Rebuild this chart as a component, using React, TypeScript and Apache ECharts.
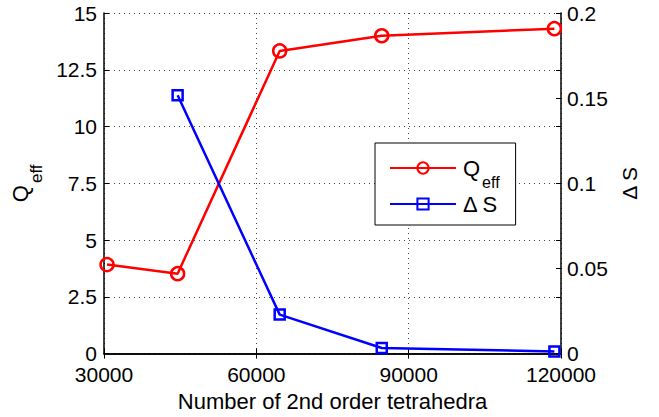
import React, { useEffect, useRef } from "react";
import * as echarts from "echarts";

const xTicks = [30000, 60000, 90000, 120000];
const qEffX = [30600, 44500, 64600, 84700, 118700];
const qEffValues = [3.92, 3.52, 13.33, 14.0, 14.31];
const deltaSX = [44500, 64600, 84700, 118700];
const deltaSValues = [0.1517, 0.0229, 0.0033, 0.0013];

const FONT = "'Liberation Sans', Arial, Helvetica, sans-serif";

export default function App() {
  const ref = useRef<HTMLDivElement>(null);
  useEffect(() => {
    if (!ref.current) return;
    const chart = echarts.init(ref.current, undefined, { renderer: "svg" });
    const axisLine = { show: true, lineStyle: { color: "#000", width: 1.5 } };
    const tick = { show: true, inside: true, length: 5, lineStyle: { color: "#000", width: 1 } };
    const grid = { show: true, lineStyle: { color: "#444", width: 1, type: [1, 4] as any } };
    const label = { color: "#000", fontSize: 21, fontFamily: FONT, lineHeight: 18 };
    chart.setOption({
      animation: false,
      textStyle: { fontFamily: FONT },
      grid: { left: 104, right: 98, top: 13, bottom: 63, containLabel: false },
      xAxis: [
        {
          type: "value",
          min: xTicks[0],
          max: xTicks[xTicks.length - 1],
          interval: 30000,
          position: "bottom",
          axisLine,
          axisTick: tick,
          splitLine: grid,
          axisLabel: { ...label, margin: 12, formatter: (v: number) => String(v) },
          name: "Number of 2nd order tetrahedra",
          nameLocation: "middle",
          nameGap: 36,
          nameTextStyle: { color: "#000", fontSize: 22, fontFamily: FONT },
        },
        {
          type: "value",
          min: xTicks[0],
          max: xTicks[xTicks.length - 1],
          interval: 30000,
          position: "top",
          axisLine,
          axisTick: tick,
          splitLine: { show: false },
          axisLabel: { show: false },
        },
      ],
      yAxis: [
        {
          type: "value",
          min: 0,
          max: 15,
          interval: 2.5,
          position: "left",
          axisLine,
          axisTick: tick,
          splitLine: grid,
          axisLabel: { ...label, margin: 7 },
          name: "{q|Q}{s|eff}",
          nameLocation: "middle",
          nameRotate: 90,
          nameGap: 73,
          nameTextStyle: {
            color: "#000",
            fontFamily: FONT,
            rich: {
              q: { fontSize: 22, color: "#000", fontFamily: FONT },
              s: { fontSize: 17, color: "#000", fontFamily: FONT, padding: [16, 0, -16, 2] },
            },
          },
        },
        {
          type: "value",
          min: 0,
          max: 0.2,
          interval: 0.05,
          position: "right",
          axisLine,
          axisTick: tick,
          splitLine: { show: false },
          axisLabel: { ...label, margin: 6 },
          name: "Δ S",
          nameLocation: "middle",
          nameRotate: 90,
          nameGap: 56,
          nameTextStyle: { color: "#000", fontSize: 21, fontFamily: FONT },
        },
        {
          type: "value",
          min: 0,
          max: 15,
          interval: 2.5,
          position: "right",
          axisLine: { show: false },
          axisTick: tick,
          splitLine: { show: false },
          axisLabel: { show: false },
        },
      ],
      legend: {
        orient: "vertical",
        left: 375,
        top: 143,
        backgroundColor: "#fff",
        borderColor: "#000",
        borderWidth: 1,
        borderRadius: 0,
        padding: [14, 16, 10, 14],
        itemWidth: 66,
        itemHeight: 14,
        itemGap: 3,
        data: ["Q_eff", "Δ S"],
        formatter: (name: string) => (name === "Q_eff" ? "{q|Q}{s|eff}" : "{q|Δ S}"),
        textStyle: {
          color: "#000",
          fontFamily: FONT,
          padding: [0, 0, 0, 2],
          rich: {
            q: { fontSize: 22, color: "#000", fontFamily: FONT },
            s: { fontSize: 16, color: "#000", fontFamily: FONT, padding: [14, 0, -14, 2] },
          },
        },
      },
      series: [
        {
          name: "Q_eff",
          type: "line",
          xAxisIndex: 0,
          yAxisIndex: 0,
          data: qEffX.map((x, i) => [x, qEffValues[i]]),
          symbol: "circle",
          symbolSize: 13,
          color: "#ff0000",
          lineStyle: { color: "#ff0000", width: 2.5 },
          itemStyle: { color: "rgba(0,0,0,0)", borderColor: "#ff0000", borderWidth: 2.5 },
          clip: false,
        },
        {
          name: "Δ S",
          type: "line",
          xAxisIndex: 0,
          yAxisIndex: 1,
          data: deltaSX.map((x, i) => [x, deltaSValues[i]]),
          symbol: "rect",
          symbolSize: 10,
          color: "#0000ff",
          lineStyle: { color: "#0000ff", width: 2.5 },
          itemStyle: { color: "rgba(0,0,0,0)", borderColor: "#0000ff", borderWidth: 2.5 },
          clip: false,
        },
      ],
    });
    return () => chart.dispose();
  }, []);
  return (
    <div
      ref={ref}
      style={{ position: "fixed", left: 0, top: 0, width: 659, height: 417, background: "#fff" }}
    />
  );
}
